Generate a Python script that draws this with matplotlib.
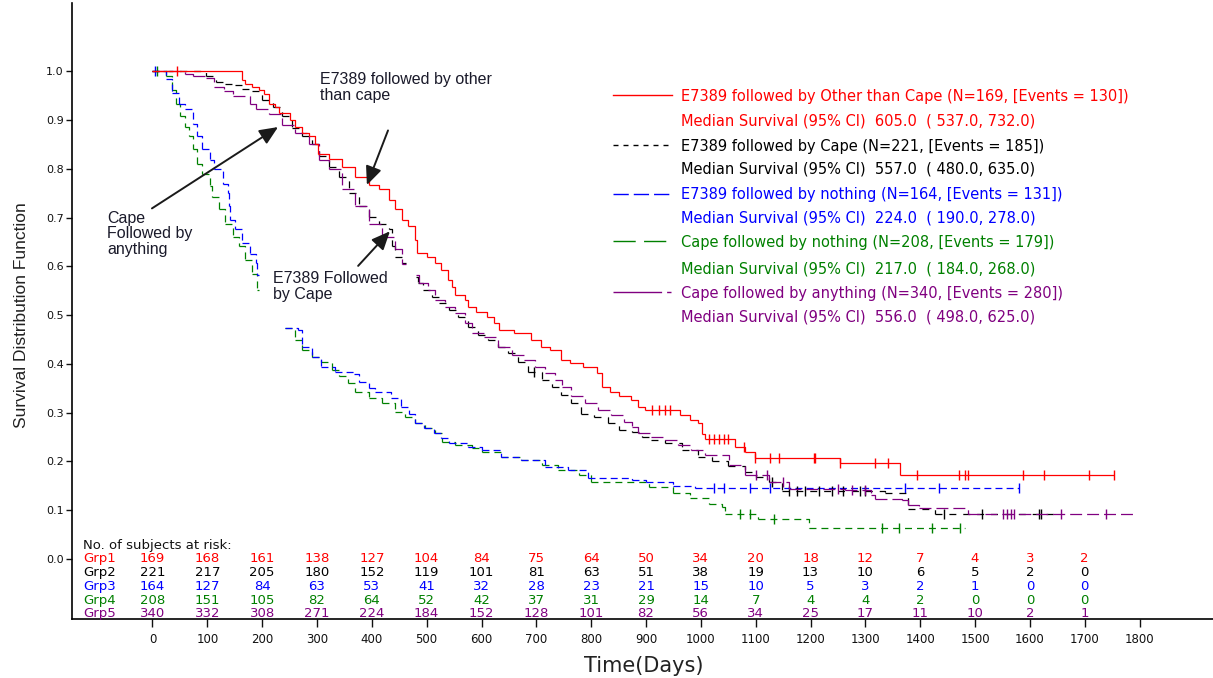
import matplotlib
matplotlib.use('Agg')
import matplotlib.pyplot as plt
import numpy as np
from matplotlib.collections import LineCollection
from matplotlib.lines import Line2D
from matplotlib import font_manager

plt.rcParams['lines.scale_dashes'] = False

# ---------------- data ----------------
GROUPS = ['Grp1', 'Grp2', 'Grp3', 'Grp4', 'Grp5']
COLORS = ['#FF0000', '#000000', '#0000FF', '#008000', '#800080']

# Grp1: E7389 followed by Other than Cape
G1_T = [0, 164, 169, 182, 195, 204, 213, 224, 231, 250, 260, 273, 286, 297, 301, 322, 346, 370, 395,
        413, 431, 443, 455, 466, 478, 482, 500, 515, 527, 538, 546, 552, 570, 576, 590, 610, 622, 632,
        660, 690, 708, 725, 745, 762, 786, 810, 820, 835, 850, 872, 885, 898, 962, 980, 995, 1003, 1007,
        1062, 1080, 1098, 1253, 1364]
G1_S = [1.0, 0.982, 0.975, 0.969, 0.963, 0.953, 0.934, 0.928, 0.914, 0.901, 0.887, 0.873, 0.867, 0.852,
        0.83, 0.821, 0.805, 0.784, 0.768, 0.758, 0.737, 0.717, 0.696, 0.682, 0.654, 0.627, 0.620, 0.606,
        0.593, 0.572, 0.558, 0.541, 0.531, 0.517, 0.507, 0.497, 0.483, 0.469, 0.463, 0.449, 0.435, 0.428,
        0.408, 0.401, 0.394, 0.381, 0.353, 0.343, 0.333, 0.326, 0.312, 0.305, 0.295, 0.285, 0.278, 0.255,
        0.246, 0.23, 0.22, 0.207, 0.197, 0.171]
G1_END = 1754
G1_CENS = [45, 911, 923, 934, 944, 1014, 1024, 1033, 1042, 1049, 1078, 1098, 1126, 1142, 1206, 1209,
           1253, 1317, 1342, 1395, 1470, 1481, 1488, 1588, 1626, 1707, 1754]

# Grp2: E7389 followed by Cape
G2_T = [0, 97, 115, 133, 151, 164, 182, 200, 219, 237, 255, 273, 291, 304, 322, 340, 359, 377, 395, 413,
        431, 436, 443, 455, 478, 485, 494, 510, 522, 540, 558, 575, 593, 612, 630, 648, 666, 685, 710,
        728, 745, 763, 782, 805, 830, 850, 875, 892, 910, 935, 965, 995, 1020, 1050, 1080, 1100, 1124,
        1148, 1335, 1378, 1427]
G2_S = [1.0, 0.99, 0.979, 0.975, 0.973, 0.965, 0.959, 0.942, 0.928, 0.908, 0.883, 0.867, 0.852, 0.826,
        0.805, 0.784, 0.75, 0.723, 0.702, 0.688, 0.676, 0.641, 0.62, 0.606, 0.579, 0.565, 0.551, 0.538,
        0.524, 0.510, 0.497, 0.476, 0.459, 0.449, 0.435, 0.422, 0.404, 0.384, 0.367, 0.353, 0.336, 0.319,
        0.298, 0.291, 0.278, 0.264, 0.261, 0.250, 0.244, 0.237, 0.223, 0.209, 0.2, 0.19, 0.178, 0.168,
        0.158, 0.138, 0.134, 0.103, 0.092]
G2_END = 1650
G2_CENS = [695, 1130, 1160, 1175, 1190, 1215, 1240, 1260, 1290, 1300, 1444, 1512, 1617, 1621]

# Grp3: E7389 followed by nothing
G3_T = [0, 24, 36, 49, 60, 73, 82, 91, 104, 113, 128, 137, 140, 142, 151, 164, 177, 188, 191, 240,
        265, 272, 290, 308, 332, 368, 376, 394, 405, 435, 454, 467, 478, 496, 514, 527, 540, 575, 600,
        636, 672, 715, 757, 794, 874, 900, 950, 990]
G3_S = [1.0, 0.984, 0.955, 0.934, 0.922, 0.893, 0.867, 0.84, 0.819, 0.799, 0.77, 0.75, 0.723, 0.696,
        0.676, 0.647, 0.626, 0.606, 0.583, 0.474, 0.469, 0.435, 0.415, 0.394, 0.384, 0.38, 0.363, 0.350,
        0.343, 0.329, 0.312, 0.298, 0.278, 0.268, 0.257, 0.247, 0.237, 0.230, 0.223, 0.209, 0.203, 0.189,
        0.182, 0.165, 0.162, 0.158, 0.15, 0.146]
G3_END = 1581
G3_CENS = [4, 1024, 1042, 1089, 1126, 1372, 1435, 1581]

# Grp4: Cape followed by nothing
G4_T = [0, 24, 36, 42, 51, 60, 67, 73, 82, 91, 104, 109, 122, 133, 146, 158, 169, 182, 191, 240,
        260, 272, 290, 308, 327, 340, 357, 370, 394, 418, 442, 461, 479, 497, 515, 528, 552, 582, 600,
        636, 672, 710, 740, 777, 800, 905, 950, 980, 1014, 1038, 1044, 1105, 1197]
G4_S = [1.0, 0.99, 0.963, 0.934, 0.908, 0.887, 0.867, 0.84, 0.811, 0.79, 0.764, 0.743, 0.717, 0.688,
        0.661, 0.641, 0.614, 0.585, 0.552, 0.473, 0.449, 0.428, 0.415, 0.404, 0.387, 0.374, 0.360, 0.343,
        0.329, 0.319, 0.302, 0.291, 0.278, 0.268, 0.257, 0.240, 0.233, 0.227, 0.220, 0.209, 0.203, 0.192,
        0.182, 0.172, 0.158, 0.148, 0.135, 0.125, 0.113, 0.107, 0.092, 0.082, 0.064]
G4_END = 1481
G4_CENS = [8, 1071, 1089, 1133, 1330, 1361, 1421, 1472]

# Grp5: Cape followed by anything
G5_T = [0, 60, 73, 97, 113, 131, 146, 177, 188, 213, 237, 260, 286, 304, 322, 346, 370, 395, 419, 443,
        455, 478, 486, 503, 515, 533, 552, 570, 582, 605, 630, 655, 678, 698, 716, 734, 746, 764, 788,
        812, 836, 860, 874, 886, 910, 935, 958, 982, 1008, 1051, 1080, 1124, 1160, 1262, 1311, 1317,
        1366, 1378, 1397, 1488]
G5_S = [1.0, 0.994, 0.99, 0.986, 0.969, 0.959, 0.949, 0.934, 0.924, 0.912, 0.891, 0.873, 0.852, 0.819,
        0.799, 0.758, 0.723, 0.688, 0.661, 0.635, 0.604, 0.582, 0.565, 0.551, 0.531, 0.517, 0.504, 0.483,
        0.463, 0.456, 0.435, 0.418, 0.408, 0.394, 0.381, 0.367, 0.353, 0.333, 0.319, 0.305, 0.295, 0.281,
        0.271, 0.257, 0.250, 0.244, 0.233, 0.223, 0.213, 0.193, 0.172, 0.158, 0.144, 0.142, 0.131, 0.123,
        0.121, 0.111, 0.105, 0.092]
G5_END = 1794
G5_CENS = [1100, 1120, 1150, 1250, 1275, 1300, 1551, 1558, 1565, 1572, 1657, 1739]

# ranges where the source image shows no curve (day ranges)
GAPS = [None, (462, 480), (194, 241), (194, 241), (462, 480)]

# numbers at risk
RISK_TIMES = [0, 100, 200, 300, 400, 500, 600, 700, 800, 900, 1000, 1100, 1200, 1300, 1400, 1500, 1600, 1700]
RISK_G1 = [169, 168, 161, 138, 127, 104, 84, 75, 64, 50, 34, 20, 18, 12, 7, 4, 3, 2]
RISK_G2 = [221, 217, 205, 180, 152, 119, 101, 81, 63, 51, 38, 19, 13, 10, 6, 5, 2, 0]
RISK_G3 = [164, 127, 84, 63, 53, 41, 32, 28, 23, 21, 15, 10, 5, 3, 2, 1, 0, 0]
RISK_G4 = [208, 151, 105, 82, 64, 52, 42, 37, 31, 29, 14, 7, 4, 4, 2, 0, 0, 0]
RISK_G5 = [340, 332, 308, 271, 224, 184, 152, 128, 101, 82, 56, 34, 25, 17, 11, 10, 2, 1]

XTICKS = list(range(0, 1801, 100))
YTICKS = [0.0, 0.1, 0.2, 0.3, 0.4, 0.5, 0.6, 0.7, 0.8, 0.9, 1.0]

LEGEND_LINES = [
    ("E7389 followed by Other than Cape (N=169, [Events = 130])",
     "Median Survival (95% CI)  605.0  ( 537.0, 732.0)"),
    ("E7389 followed by Cape (N=221, [Events = 185])",
     "Median Survival (95% CI)  557.0  ( 480.0, 635.0)"),
    ("E7389 followed by nothing (N=164, [Events = 131])",
     "Median Survival (95% CI)  224.0  ( 190.0, 278.0)"),
    ("Cape followed by nothing (N=208, [Events = 179])",
     "Median Survival (95% CI)  217.0  ( 184.0, 268.0)"),
    ("Cape followed by anything (N=340, [Events = 280])",
     "Median Survival (95% CI)  556.0  ( 498.0, 625.0)"),
]

# ---------------- styles ----------------
PLOT_DASH = [None, (0, (5, 5)), (0, (5, 3)), (0, (5, 3.6)), (0, (8.6, 3.6))]
LEG_DASH = [None, (0, (3.6, 3.6)), (0, (11, 3.6)), (0, (16, 6)), (0, (35, 3.6, 3.6, 3.6))]


def has_font(name):
    try:
        font_manager.findfont(font_manager.FontProperties(family=name), fallback_to_default=False)
        return True
    except Exception:
        return False


if has_font('Liberation Sans Narrow'):
    ANN_FAM, ANN_SIZE = 'Liberation Sans Narrow', 13.5
else:
    ANN_FAM, ANN_SIZE = 'Liberation Sans', 11.5

W, H = 1213, 678
fig = plt.figure(figsize=(W / 100, H / 100), dpi=100)
ax = fig.add_axes([72 / W, 1 - 619 / H, 1 - 72 / W, (619 - 3) / H])
ax.set_xlim(-146.8, 1934)
ax.set_ylim(-0.1238, 1.1406)
for sp in ['top', 'right']:
    ax.spines[sp].set_visible(False)
for sp in ['left', 'bottom']:
    ax.spines[sp].set_linewidth(1.2)


def segments(t, s, end, gap):
    segs = []
    n = len(t)
    for i in range(n):
        x0 = t[i]
        x1 = t[i + 1] if i + 1 < n else end
        y = s[i]
        if gap is not None and not (x1 <= gap[0] or x0 >= gap[1]):
            if x0 < gap[0]:
                segs.append([(x0, y), (gap[0], y)])
            if x1 > gap[1]:
                p = [(gap[1], y), (x1, y)]
                if i + 1 < n:
                    p.append((x1, s[i + 1]))
                segs.append(p)
            continue
        p = [(x0, y), (x1, y)]
        if i + 1 < n:
            p.append((x1, s[i + 1]))
        segs.append(p)
    return segs


def surv_at(t, s, c):
    idx = np.searchsorted(np.asarray(t), np.asarray(c), side='right') - 1
    return np.asarray(s)[idx]


DATA = [(G1_T, G1_S, G1_END, G1_CENS), (G2_T, G2_S, G2_END, G2_CENS), (G3_T, G3_S, G3_END, G3_CENS),
        (G4_T, G4_S, G4_END, G4_CENS), (G5_T, G5_S, G5_END, G5_CENS)]

for k in [3, 2, 1, 4, 0]:
    t, s, end, cens = DATA[k]
    segs = segments(t, s, end, GAPS[k])
    ls = '-' if PLOT_DASH[k] is None else PLOT_DASH[k]
    lc = LineCollection(segs, colors=COLORS[k], linewidths=0.9, linestyles=ls)
    ax.add_collection(lc)
    ax.plot(cens, surv_at(t, s, cens), ls='none', marker='|', ms=6.5, mew=1.0, color=COLORS[k])

# ticks
ax.set_xticks(XTICKS)
ax.set_xticklabels([str(v) for v in XTICKS], fontfamily='DejaVu Sans')
ax.set_yticks(YTICKS)
ax.set_yticklabels(['%.1f' % v for v in YTICKS], fontfamily='DejaVu Sans')
ax.tick_params(axis='x', direction='out', length=5.8, width=1.0, pad=4.5, labelsize=8.5, colors='#111111')
ax.tick_params(axis='y', direction='out', length=4.5, width=1.0, pad=1.5, labelsize=8, colors='#111111')

# axis labels
fig.text(22 / W, 1 - 315 / H, 'Survival Distribution Function', rotation=90, ha='center', va='center',
         fontsize=12.5, family='Liberation Sans', color='#222222')
fig.text(644 / W, 1 - 666 / H, 'Time(Days)', ha='center', va='center', fontsize=15,
         family='DejaVu Sans', color='#222222')

# at-risk table
TAB_X = -126.8
ax.text(TAB_X, 0.028, 'No. of subjects at risk:', fontsize=9.5, family='DejaVu Sans', va='center',
        ha='left', color='#111111')
RISKS = [RISK_G1, RISK_G2, RISK_G3, RISK_G4, RISK_G5]
for k in range(5):
    yrow = -0.0283 * k
    ax.text(TAB_X, yrow, GROUPS[k], fontsize=9.5, family='DejaVu Sans', va='center', ha='left',
            color=COLORS[k])
    for tt, v in zip(RISK_TIMES, RISKS[k]):
        ax.text(tt, yrow, str(v), fontsize=9.5, family='DejaVu Sans', va='center', ha='center',
                color=COLORS[k])

# legend (figure pixel coordinates)
ROWS = [(96.7, 120.7), (146.0, 169.5), (195.0, 218.0), (243.0, 268.5), (293.0, 317.5)]
LINE_END = [672, 672, 671, 668, 671]
for k in range(5):
    y1, y2 = ROWS[k]
    ls = '-' if LEG_DASH[k] is None else LEG_DASH[k]
    fig.add_artist(Line2D([613 / W, LINE_END[k] / W], [1 - (y1 - 1.5) / H, 1 - (y1 - 1.5) / H],
                          transform=fig.transFigure, color=COLORS[k], lw=1.0, linestyle=ls))
    fig.text(681 / W, 1 - y1 / H, LEGEND_LINES[k][0], fontsize=10.5, family='DejaVu Sans',
             color=COLORS[k], va='center', ha='left')
    fig.text(681 / W, 1 - y2 / H, LEGEND_LINES[k][1], fontsize=10.5, family='DejaVu Sans',
             color=COLORS[k], va='center', ha='left')

# annotations
ARROW = dict(arrowstyle='-|>,head_length=0.8,head_width=0.35', mutation_scale=14, lw=1.4,
             color='#1a1a1a', shrinkA=0, shrinkB=0)
ax.annotate('', xy=(391, 0.767), xytext=(429.5, 0.879), arrowprops=ARROW)
ax.annotate('', xy=(229, 0.886), xytext=(-1, 0.719), arrowprops=ARROW)
ax.annotate('', xy=(433, 0.672), xytext=(375, 0.601), arrowprops=ARROW)
ax.text(305.5, 0.999, 'E7389 followed by other\nthan cape', ha='left', va='top', fontsize=ANN_SIZE,
        family=ANN_FAM, color='#1a1a2a', linespacing=1.05)
ax.text(-83, 0.714, 'Cape\nFollowed by\nanything', ha='left', va='top', fontsize=ANN_SIZE,
        family=ANN_FAM, color='#1a1a2a', linespacing=1.05)
ax.text(220, 0.59, 'E7389 Followed\nby Cape', ha='left', va='top', fontsize=ANN_SIZE,
        family=ANN_FAM, color='#1a1a2a', linespacing=1.05)

fig.savefig('out.png', dpi=100)
